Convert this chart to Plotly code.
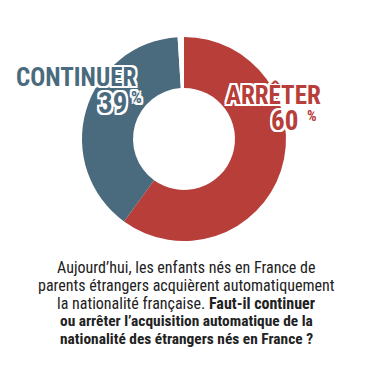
import plotly.graph_objects as go

W, H = 375, 381

labels = ["ARRÊTER", "CONTINUER", ""]
values = [60, 39, 1]
colors = ["#B73E39", "#4A6A7E", "#FFFFFF"]
pct_labels = ["60", "39"]
caption_lines = [
    "Aujourd’hui, les enfants nés en France de",
    "parents étrangers acquièrent automatiquement",
    "la nationalité française. <b>Faut-il continuer</b>",
    "<b>ou arrêter l’acquisition automatique de la</b>",
    "<b>nationalité des étrangers nés en France ?</b>",
]

def px(x):
    return x / W

def py(y):
    return 1 - y / H

cx, cy, r = 184, 139, 102

fig = go.Figure()
fig.add_trace(go.Pie(
    labels=labels, values=values, sort=False, direction="clockwise", rotation=0,
    hole=0.5, marker=dict(colors=colors, line=dict(width=0)),
    textinfo="none", hoverinfo="skip", showlegend=False,
    domain=dict(x=[px(cx - r), px(cx + r)], y=[py(cy + r), py(cy - r)]),
))

big = "Roboto Condensed, serif"
outline = ", ".join(f"{dx}px {dy}px 0 #ffffff" for dx, dy in
                    [(-2, -2), (2, -2), (-2, 2), (2, 2), (0, 2), (0, -2), (2, 0), (-2, 0)])

def lab(text, x, y, xanchor, size, color):
    fig.add_annotation(text=text, x=px(x), y=py(y), xref="paper", yref="paper",
                       xanchor=xanchor, yanchor="middle", showarrow=False,
                       font=dict(family=big, size=size, color=color, weight="bold", shadow=outline))

lab(labels[1], 138, 78, "right", 25, colors[1])
lab(pct_labels[1], 129, 103, "right", 29, colors[1])
lab("%", 129, 97, "left", 17, colors[1])
lab(labels[0], 224, 95, "left", 25, colors[0])
lab(pct_labels[0], 300, 121, "right", 27, colors[0])
lab("%", 305, 116, "left", 15, colors[0])

line_y = [267, 285, 303, 321, 339]
for i, (t, yy) in enumerate(zip(caption_lines, line_y)):
    size = 16 if i < 3 else 15.4
    fig.add_annotation(text=t, x=px(186), y=py(yy), xref="paper", yref="paper",
                       xanchor="center", yanchor="middle", showarrow=False,
                       font=dict(family="Roboto Condensed, serif", size=size, color="#222222"))

fig.update_layout(width=W, height=H, margin=dict(l=0, r=0, t=0, b=0),
                  paper_bgcolor="white", plot_bgcolor="white")
fig.write_html("out.html")
